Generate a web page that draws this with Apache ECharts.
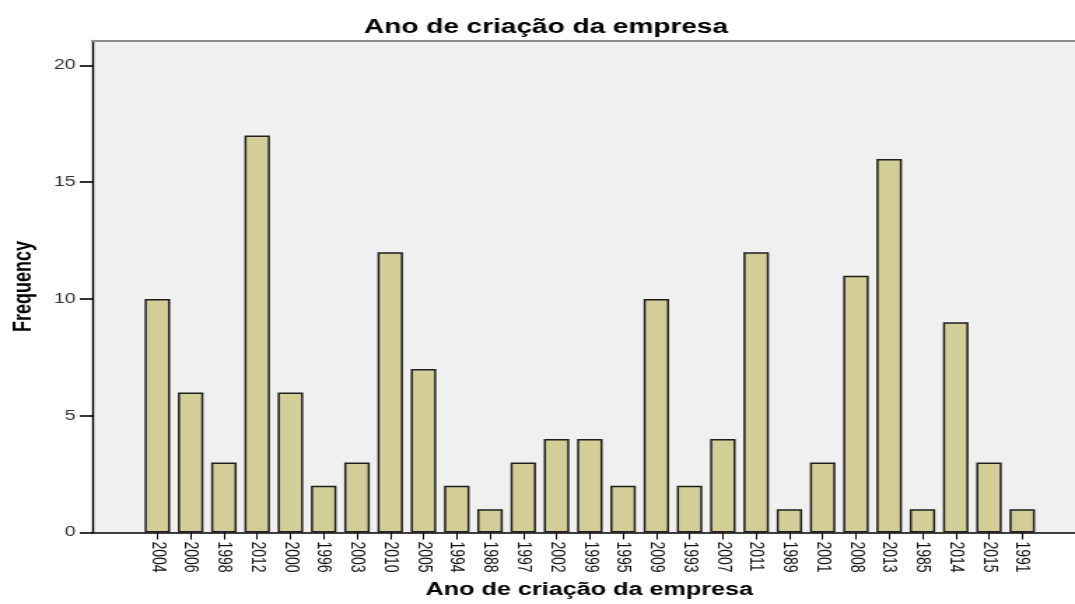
<!DOCTYPE html>
<html>
<head>
<meta charset="utf-8">
<script src="https://cdn.jsdelivr.net/npm/echarts@6/dist/echarts.min.js"></script>
<style>
html,body{margin:0;padding:0;background:#fff;overflow:hidden;width:1075px;height:604px;}
#chart{width:768px;height:604px;transform:scaleX(1.39974);transform-origin:0 0;}
</style>
</head>
<body>
<div id="chart"></div>
<script>
// Data
const years = ['2004','2006','1998','2012','2000','1996','2003','2010','2005','1994','1988','1997','2002','1999','1995','2009','1993','2007','2011','1989','2001','2008','2013','1985','2014','2015','1991'];
const frequency = [10,6,3,17,6,2,3,12,7,2,1,3,4,4,2,10,2,4,12,1,3,11,16,1,9,3,1];
const yTicks = [0,5,10,15,20];

const idx = years.map((_, i) => i);
const FONT = "'Liberation Sans', Arial, sans-serif";

const chart = echarts.init(document.getElementById('chart'), null, {renderer: 'canvas'});
chart.setOption({
  animation: false,
  backgroundColor: '#ffffff',
  title: {
    text: 'Ano de criação da empresa',
    left: 255, top: 12,
    textStyle: {fontFamily: FONT, fontSize: 20, fontWeight: 'bold', color: '#000'}
  },
  grid: {left: 62.9, right: 0, top: 40.5, bottom: 71.5, show: true, backgroundColor: '#f0f0f0', borderWidth: 0},
  xAxis: [{
    type: 'value',
    min: -1.954, max: 27.586,
    name: 'Ano de criação da empresa',
    nameLocation: 'middle', nameGap: 47,
    nameTextStyle: {fontFamily: FONT, fontSize: 18, fontWeight: 'bold', color: '#000', padding: [0, 0, 0, 8]},
    axisLine: {show: true, onZero: false, lineStyle: {color: '#000', width: 1.6}},
    axisTick: {show: true, customValues: idx, length: 7, lineStyle: {color: '#000', width: 1}},
    axisLabel: {show: true, customValues: idx, rotate: -90, margin: 9,
      fontFamily: FONT, fontSize: 14, color: '#111',
      formatter: v => years[v]},
    splitLine: {show: false}
  }, {
    type: 'value', position: 'top',
    min: -1.954, max: 27.586,
    axisLine: {show: true, onZero: false, lineStyle: {color: '#8c8c8c', width: 2}},
    axisTick: {show: false}, axisLabel: {show: false}, splitLine: {show: false}
  }],
  yAxis: {
    type: 'value', min: 0, max: 21.07, position: 'left',
    name: 'Frequency', nameLocation: 'middle', nameGap: 40,
    nameTextStyle: {fontFamily: FONT, fontSize: 18, fontWeight: 'bold', color: '#000'},
    axisLine: {show: true, onZero: false, lineStyle: {color: '#000', width: 1.4}},
    axisTick: {show: true, customValues: yTicks, length: 9, lineStyle: {color: '#000', width: 1.6}},
    axisLabel: {show: true, customValues: yTicks, margin: 12, fontFamily: FONT, fontSize: 14, color: '#333'},
    splitLine: {show: false}
  },
  series: [{
    type: 'bar',
    xAxisIndex: 0,
    barWidth: 18.2,
    data: idx.map(i => [i, frequency[i]]),
    itemStyle: {color: '#d3ce97', borderColor: '#1e1e1e', borderWidth: 1.5}
  }]
});
</script>
</body>
</html>
